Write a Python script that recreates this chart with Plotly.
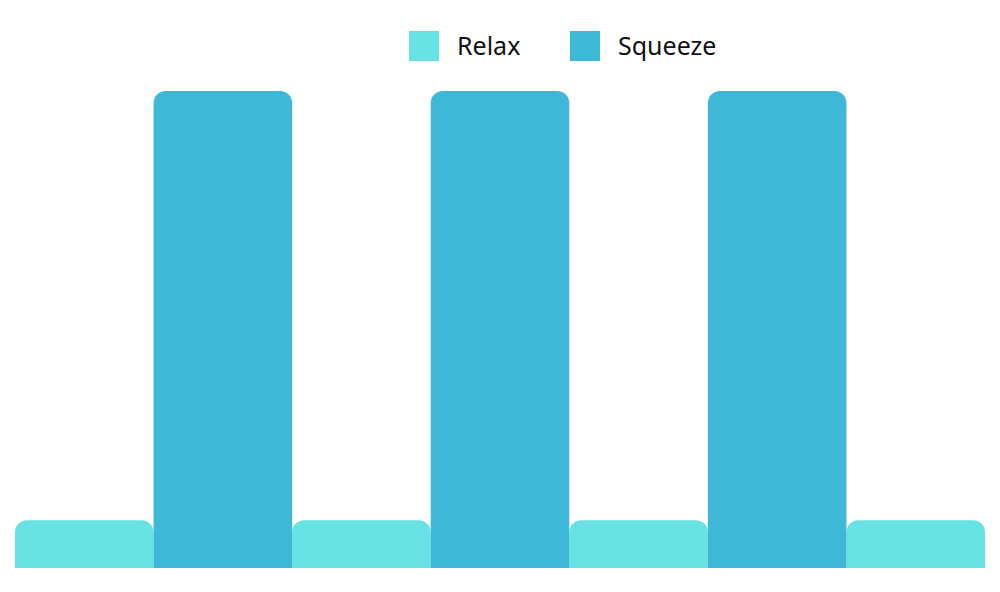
import plotly.graph_objects as go

# Alternating phases of the exercise
relax_slots = [0, 2, 4, 6]
relax_values = [1, 1, 1, 1]
squeeze_slots = [1, 3, 5]
squeeze_values = [10, 10, 10]

series_names = ["Relax", "Squeeze"]
series_colors = ["#68E1E4", "#3EB8D6"]

fig = go.Figure()

fig.add_trace(go.Bar(
    x=relax_slots, y=relax_values, name=series_names[0],
    width=1, marker=dict(color=series_colors[0], line=dict(width=0), cornerradius=12),
    showlegend=False,
))
fig.add_trace(go.Bar(
    x=squeeze_slots, y=squeeze_values, name=series_names[1],
    width=1, marker=dict(color=series_colors[1], line=dict(width=0), cornerradius=12),
    showlegend=False,
))

# custom legend (big square swatches); page is offset 8px by the body margin
W, H = 1000, 592
off = 8
ml, mr, mt, mb = 15 - off, 1000 - 985 + off, 91 - off, 592 - 568 + off
pw, ph = W - ml - mr, H - mt - mb

def px(x):
    return (x - off - ml) / pw

def py(y):
    return (H - mb - (y - off)) / ph

swatches = [(409, 457, series_colors[0]), (570, 618, series_colors[1])]
for (sx, tx, col), name in zip(swatches, series_names):
    fig.add_shape(type="rect", xref="paper", yref="paper",
                  x0=px(sx), x1=px(sx + 30), y0=py(61), y1=py(31),
                  fillcolor=col, line=dict(width=0))
    fig.add_annotation(xref="paper", yref="paper", x=px(tx - 2), y=py(45),
                       xanchor="left", yanchor="middle", text=name, showarrow=False,
                       font=dict(family="Noto Sans", size=25, color="#111111"))

fig.update_layout(
    width=W, height=H,
    margin=dict(l=ml, r=mr, t=mt, b=mb),
    barmode="overlay",
    plot_bgcolor="white", paper_bgcolor="white",
    xaxis=dict(range=[-0.5, 6.5], visible=False),
    yaxis=dict(range=[0, 10], visible=False),
)

fig.write_html("out.html")
